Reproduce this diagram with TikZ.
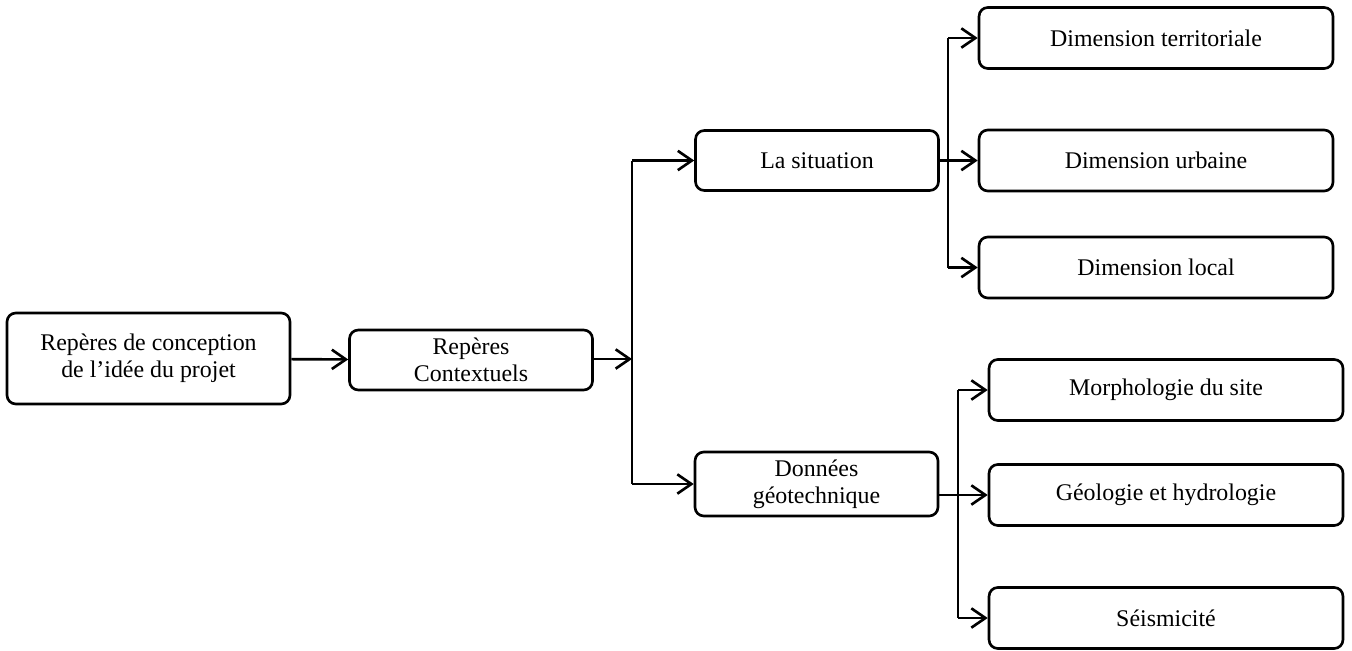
\documentclass[tikz,border=0pt]{standalone}
\usepackage{fontspec}
\setmainfont{Liberation Serif}
\usetikzlibrary{arrows.meta, positioning}

\begin{document}
\begin{tikzpicture}[x=0.02cm, y=-0.02cm,
    box/.style={draw, line width=1.5pt, rounded corners=5pt, align=center,
      font=\fontsize{13.6}{15.4}\selectfont, inner sep=2pt},
    mid box/.style={box, minimum width=4.86cm, minimum height=1.2cm},
    leaf box/.style={box, minimum width=7.08cm, minimum height=1.22cm},
    link/.style={line width=1.5pt},
    arrow/.style={link, -{Straight Barb[length=8pt, width=11pt, line width=1.5pt]}}]
  \useasboundingbox (0,0) rectangle (1352,650);
  %% *** Root ***
  \node [box, minimum width=5.66cm, minimum height=1.82cm] (idee) at (148.5,358.5)
    {Repères de conception\\de l’idée du projet};
  \node [mid box, minimum height=1.2cm] (ctx) at (471,360) {Repères\\Contextuels};
  %% *** Second level ***
  \node [mid box] (sit) at (817,160.5) {La situation};
  \node [mid box, minimum height=1.28cm] (don) at (816.5,484) {Données\\géotechnique};
  %% *** La situation ***
  \node [leaf box] (ter) at (1156,38) {Dimension territoriale};
  \node [leaf box] (urb) at (1156,160.5) {Dimension urbaine};
  \node [leaf box] (loc) at (1156,267.5) {Dimension local};
  %% *** Donnees geotechnique ***
  \node [leaf box] (mor) at (1166,390) {Morphologie du site};
  \node [leaf box] (geo) at (1166,495) {Géologie et hydrologie};
  \node [leaf box] (sei) at (1166,618) {Séismicité};

  \coordinate (j1) at (632,359);
  \coordinate (j2) at (948,0);
  \coordinate (j3) at (958,0);

  \draw [arrow] (idee) -- (ctx);
  \draw [arrow] (ctx.east |- j1) -- (j1);
  \draw [link] (j1 |- sit) -- (j1 |- don.west);
  \draw [arrow] (j1 |- sit) -- (sit);
  \draw [arrow] (j1 |- don.west) -- (don);
  \draw [link] (j2 |- ter) -- (j2 |- loc);
  \draw [arrow] (sit) -- (urb);
  \draw [link] (j3 |- mor) -- (j3 |- sei);
  \draw [arrow] (don.east |- geo.west) -- (geo);
  \foreach \leaf in {ter, loc}
    \draw [arrow] (j2 |- \leaf) -- (\leaf);
  \foreach \leaf in {mor, sei}
    \draw [arrow] (j3 |- \leaf) -- (\leaf);
\end{tikzpicture}
\end{document}
